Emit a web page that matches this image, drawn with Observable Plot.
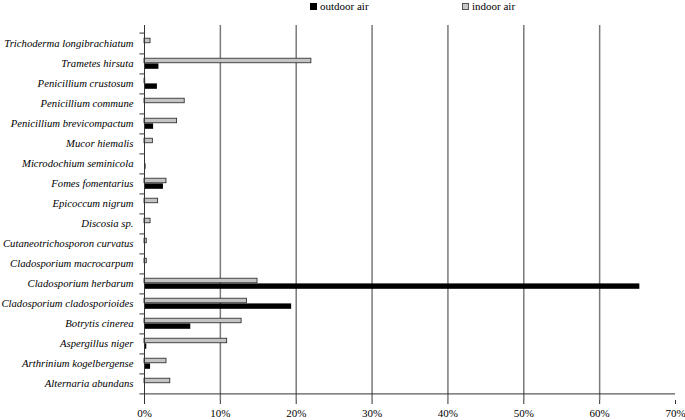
<!DOCTYPE html>
<html>
<head>
<meta charset="utf-8">
<script src="https://cdn.jsdelivr.net/npm/d3@7"></script>
<script src="https://cdn.jsdelivr.net/npm/@observablehq/plot@0.6"></script>
<style>
  body { margin: 0; background: white; font-family: "Liberation Serif", serif; }
  #legend { position: relative; height: 12px; font-size: 11px; line-height: 12px; }
  #legend span.item { position: absolute; top: 0; white-space: nowrap; }
  #legend i.sw { display: inline-block; width: 7px; height: 7px; margin-right: 3px; vertical-align: 0px; box-sizing: border-box; }
</style>
</head>
<body>
<div id="legend"></div>
<div id="chart"></div>
<script>
const species = [
  "Trichoderma longibrachiatum",
  "Trametes hirsuta",
  "Penicillium crustosum",
  "Penicillium commune",
  "Penicillium brevicompactum",
  "Mucor hiemalis",
  "Microdochium seminicola",
  "Fomes fomentarius",
  "Epicoccum nigrum",
  "Discosia sp.",
  "Cutaneotrichosporon curvatus",
  "Cladosporium macrocarpum",
  "Cladosporium herbarum",
  "Cladosporium cladosporioides",
  "Botrytis cinerea",
  "Aspergillus niger",
  "Arthrinium kogelbergense",
  "Alternaria abundans"
];
const outdoor = [0, 1.9, 1.7, 0, 1.2, 0, 0.2, 2.5, 0, 0, 0, 0, 65.3, 19.4, 6.1, 0.3, 0.8, 0];
const indoor  = [0.8, 22.0, 0.1, 5.3, 4.3, 1.1, 0, 2.9, 1.8, 0.8, 0.3, 0.3, 14.9, 13.5, 12.8, 10.9, 2.9, 3.4];
const seriesNames = ["outdoor air", "indoor air"];
const xTicks = [0, 10, 20, 30, 40, 50, 60, 70];
const gridTicks = [10, 20, 30, 40, 50, 60];

const data = species.map((s, i) => ({species: s, outdoor: outdoor[i], indoor: indoor[i]}));

// legend
const legend = document.getElementById("legend");
const legendStyles = [
  {left: 310, fill: "#000", stroke: "#000"},
  {left: 462, fill: "#c8c8c8", stroke: "#555"}
];
seriesNames.forEach((name, i) => {
  const sp = document.createElement("span");
  sp.className = "item";
  sp.style.left = legendStyles[i].left + "px";
  const sw = document.createElement("i");
  sw.className = "sw";
  sw.style.background = legendStyles[i].fill;
  sw.style.border = "1px solid " + legendStyles[i].stroke;
  sp.appendChild(sw);
  sp.appendChild(document.createTextNode(name));
  legend.appendChild(sp);
});

const H = 408, mt = 13, mb = 20;
const band = (H - mt - mb) / species.length;

const chart = Plot.plot({
  width: 685,
  height: H,
  marginTop: mt,
  marginBottom: mb,
  marginLeft: 144,
  marginRight: 10,
  style: {fontFamily: "Liberation Serif, serif", fontSize: "10px", background: "white", color: "black"},
  x: {domain: [0, 70]},
  y: {domain: species, padding: 0},
  marks: [
    Plot.ruleX(gridTicks, {stroke: "#7a7a7a", strokeWidth: 1.5, strokeOpacity: 1}),
    Plot.barX(data, {x: "indoor", y: "species", fill: "#c4c4c4", stroke: "#222", strokeWidth: 0.8,
      insetTop: 5.2, insetBottom: band - 10.6}),
    Plot.barX(data, {x: "outdoor", y: "species", fill: "#000",
      insetTop: 10.4, insetBottom: 4.2}),
    Plot.ruleX([0], {stroke: "#333", strokeWidth: 1}),
    Plot.ruleY([species[species.length - 1]], {dy: band / 2, x1: 0, x2: 70, stroke: "#333", strokeWidth: 1}),
    Plot.ruleY(species, {dy: band / 2, x1: 0, x2: -0.6, stroke: "#333"}),
    Plot.ruleY([species[0]], {dy: -band / 2, x1: 0, x2: -0.6, stroke: "#333"}),
    Plot.axisY({tickSize: 0, tickPadding: 11, fontStyle: "italic", fontSize: 10.7, label: null}),
    Plot.axisX({ticks: xTicks, tickFormat: d => d + "%", tickSize: 4, tickPadding: 5, fontSize: 11, label: null, stroke: "#333"})
  ]
});
document.getElementById("chart").appendChild(chart);
</script>
</body>
</html>
